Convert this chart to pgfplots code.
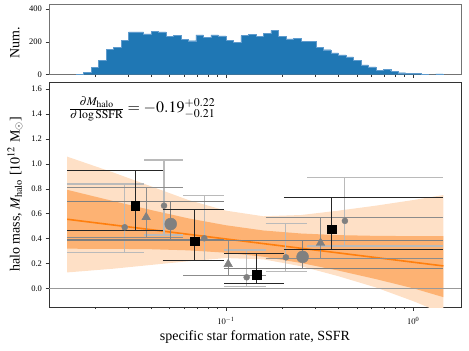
\documentclass[border=0pt]{standalone}
\usepackage{mathptmx}
\usepackage{fontspec}
\setmainfont{Liberation Serif}
\usepackage{pgfplots}
\usepackage{pgfplotstable}
\pgfplotsset{compat=1.18}
\definecolor{tabblue}{RGB}{31,119,180}
\definecolor{tabblueedge}{RGB}{95,155,205}
\definecolor{tabor}{RGB}{255,127,14}
\definecolor{bandlight}{RGB}{254,224,198}
\definecolor{banddark}{RGB}{253,178,115}

\pgfplotstableread{
x y
0.015849 4
0.017378 15
0.019055 45
0.020893 88
0.022909 155
0.025119 168
0.027542 210
0.030200 260
0.033113 260
0.036308 248
0.039811 265
0.043652 260
0.047863 232
0.052481 238
0.057544 215
0.063096 207
0.069183 242
0.075858 228
0.083176 243
0.091201 236
0.100000 210
0.109648 197
0.120226 238
0.131826 245
0.144544 232
0.158489 250
0.173780 270
0.190546 232
0.208930 218
0.229087 220
0.251189 205
0.275423 203
0.301995 168
0.331131 152
0.363078 133
0.398107 120
0.436516 108
0.478630 88
0.524807 60
0.575440 48
0.630957 28
0.691831 33
0.758578 22
0.831764 12
0.912011 9
1.000000 7
1.096478 3
1.202264 0
1.318257 5
1.445440 5
}\histdata

\begin{document}
\begin{tikzpicture}
\path[use as bounding box] (-49pt,-44pt) rectangle (420pt,307pt);

% ---------------- main panel ----------------
\begin{axis}[scale only axis, width=412pt, height=225pt, xmode=log, xmin=0.01135, xmax=1.8,
  at={(0pt,0pt)}, anchor=south west,
  tick align=outside, xtick pos=left, ytick pos=left,
  major tick length=3.5pt, minor tick length=2pt,
  tick style={black!80, line width=0.6pt},
  ticklabel style={font=\fontsize{8.5}{10}\selectfont},
  xticklabel style={yshift=-3pt},
  /pgf/number format/assume math mode=true,
  xtick={0.1,1},
  minor xtick={0.02,0.03,0.04,0.05,0.06,0.07,0.08,0.09,0.2,0.3,0.4,0.5,0.6,0.7,0.8,0.9},
  axis line style={black!80, line width=0.8pt},
  ymin=-0.147, ymax=1.656,
  ytick={0,0.2,0.4,0.6,0.8,1.0,1.2,1.4,1.6},
  yticklabel style={/pgf/number format/fixed, /pgf/number format/fixed zerofill, /pgf/number format/precision=1},
  xticklabels={$10^{-1}$,$10^{0}$},
  xlabel={specific star formation rate, SSFR},
  ylabel={halo mass, $M_{\rm halo}$ [$10^{12}$ M$_\odot$]},
  xlabel style={font=\fontsize{14}{16}\selectfont, at={(axis description cs:0.5,-0.1333)}, anchor=center},
  ylabel style={font=\fontsize{14}{16}\selectfont, at={(axis description cs:-0.0825,0.5)}, anchor=center},
  unbounded coords=jump]

% bands
\addplot[fill=bandlight, draw=none] coordinates {
(0.01419,1.058) (0.02512,0.93) (0.03981,0.82) (0.0631,0.71) (0.1,0.625) (0.1585,0.58) (0.2512,0.59) (0.3981,0.625) (0.631,0.665) (1.0,0.71) (1.449,0.75)
(1.449,-0.20) (1.0,-0.10) (0.631,0.01) (0.3981,0.10) (0.2512,0.18) (0.1585,0.235) (0.1,0.245) (0.0631,0.22) (0.03981,0.19) (0.02512,0.16) (0.01419,0.13)};
\addplot[fill=banddark, draw=none] coordinates {
(0.01419,0.792) (0.02512,0.701) (0.03981,0.630) (0.0631,0.563) (0.1,0.508) (0.1585,0.466) (0.2512,0.442) (0.3981,0.429) (0.631,0.423) (1.0,0.421) (1.449,0.421)
(1.449,-0.068) (1.0,0.003) (0.631,0.077) (0.3981,0.145) (0.2512,0.206) (0.1585,0.256) (0.1,0.288) (0.0631,0.307) (0.03981,0.316) (0.02512,0.319) (0.01419,0.320)};
\addplot[tabor, line width=1.6pt] coordinates {(0.0142,0.556) (1.45,0.182)};
\addplot[black!40, line width=0.8pt] coordinates {(0.01135,0) (1.8,0)};

% small circles: error lines
\addplot[black!27, line width=1.1pt] coordinates {
(0.0142,0.839) (0.0366,0.839) (0.03,nan) (0.0142,0.289) (0.0366,0.289) (0.03,nan) (0.0288,0.289) (0.0288,0.839) (0.03,nan)
(0.0366,1.031) (0.0592,1.031) (0.03,nan) (0.0366,0.43) (0.0592,0.43) (0.03,nan) (0.0467,0.43) (0.0467,1.031) (0.03,nan)
(0.0592,0.743) (0.098,0.743) (0.03,nan) (0.0592,0.224) (0.098,0.224) (0.03,nan) (0.0766,0.224) (0.0766,0.743) (0.03,nan)
(0.098,0.31) (0.163,0.31) (0.03,nan) (0.098,0.016) (0.163,0.016) (0.03,nan) (0.129,0.016) (0.129,0.31) (0.03,nan)
(0.163,0.524) (0.272,0.524) (0.03,nan) (0.163,0.137) (0.272,0.137) (0.03,nan) (0.209,0.137) (0.209,0.524) (0.03,nan)
(0.272,0.892) (1.45,0.892) (0.03,nan) (0.272,0.342) (1.45,0.342) (0.03,nan) (0.4318,0.342) (0.4318,0.892)
};
% triangles: error lines
\addplot[black!45, line width=1.1pt] coordinates {
(0.0142,0.81) (0.0592,0.81) (0.03,nan) (0.0142,0.41) (0.0592,0.41) (0.03,nan) (0.0375,0.41) (0.0375,0.81) (0.03,nan)
(0.0592,0.385) (0.163,0.385) (0.03,nan) (0.0592,0.104) (0.163,0.104) (0.03,nan) (0.1028,0.104) (0.1028,0.385) (0.03,nan)
(0.163,0.570) (1.45,0.570) (0.03,nan) (0.163,0.243) (1.45,0.243) (0.03,nan) (0.320,0.243) (0.320,0.570)
};
% big circles: error lines
\addplot[black!50, line width=1.1pt] coordinates {
(0.0142,0.697) (0.098,0.697) (0.03,nan) (0.0142,0.39) (0.098,0.39) (0.03,nan) (0.0507,0.39) (0.0507,0.697) (0.03,nan)
(0.098,0.388) (1.45,0.388) (0.03,nan) (0.098,0.163) (1.45,0.163) (0.03,nan) (0.2567,0.163) (0.2567,0.388)
};
% black squares: error lines
\addplot[black!85, line width=1.1pt] coordinates {
(0.0142,0.950) (0.0459,0.950) (0.03,nan) (0.0142,0.465) (0.0459,0.465) (0.03,nan) (0.0328,0.465) (0.0328,0.950) (0.03,nan)
(0.0459,0.636) (0.098,0.636) (0.03,nan) (0.0459,0.224) (0.098,0.224) (0.03,nan) (0.0683,0.224) (0.0683,0.636) (0.03,nan)
(0.098,0.284) (0.2036,0.284) (0.03,nan) (0.098,0.043) (0.2036,0.043) (0.03,nan) (0.146,0.043) (0.146,0.284) (0.03,nan)
(0.2036,0.732) (1.45,0.732) (0.03,nan) (0.2036,0.316) (1.45,0.316) (0.03,nan) (0.3666,0.316) (0.3666,0.732)
};

% markers
\addplot[only marks, mark=*, mark size=3pt, color=black!50] coordinates {
(0.0288,0.492) (0.0467,0.665) (0.0766,0.404) (0.129,0.091) (0.209,0.251) (0.4318,0.543)};
\addplot[only marks, mark=triangle*, mark size=5pt, color=black!50] coordinates {
(0.0375,0.572) (0.1028,0.196) (0.320,0.366)};
\addplot[only marks, mark=*, mark size=6pt, color=black!50] coordinates {
(0.0507,0.518) (0.2567,0.255)};
\addplot[only marks, mark=square*, mark size=4.3pt, color=black] coordinates {
(0.0328,0.665) (0.0683,0.380) (0.146,0.110) (0.3666,0.476)};

\node[font=\fontsize{16}{18}\selectfont] at (axis cs:0.0357,1.44)
  {$\frac{\partial M_{\rm halo}}{\partial \log {\rm SSFR}} = -0.19^{+0.22}_{-0.21}$};
\end{axis}

% ---------------- histogram panel ----------------
\begin{axis}[scale only axis, width=412pt, height=70pt, xmode=log, xmin=0.01135, xmax=1.8,
  at={(0pt,232.3pt)}, anchor=south west,
  tick align=outside, xtick pos=left, ytick pos=left,
  major tick length=3.5pt, minor tick length=2pt,
  tick style={black!80, line width=0.6pt},
  ticklabel style={font=\fontsize{8.5}{10}\selectfont},
  /pgf/number format/assume math mode=true,
  xtick={0.1,1},
  minor xtick={0.02,0.03,0.04,0.05,0.06,0.07,0.08,0.09,0.2,0.3,0.4,0.5,0.6,0.7,0.8,0.9},
  axis line style={black!55, line width=0.8pt},
  ymin=0, ymax=426, ytick={0,200,400},
  xticklabels={},
  ylabel={Num.},
  ylabel style={font=\fontsize{14}{16}\selectfont, at={(axis description cs:-0.0825,0.45)}, anchor=center}]
\addplot[const plot mark left, fill=tabblue, draw=tabblueedge, line width=0.3pt] table[x=x,y=y] {\histdata} \closedcycle;
\end{axis}
\end{tikzpicture}
\end{document}
